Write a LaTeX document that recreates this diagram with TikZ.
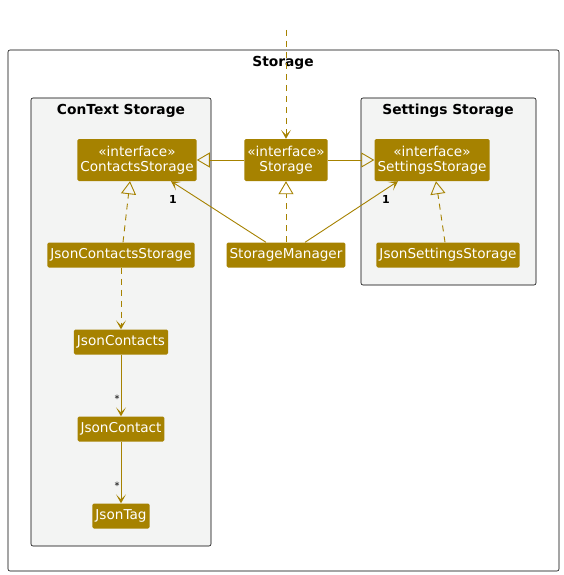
\documentclass[tikz,border=0pt]{standalone}
\usepackage{fontspec}
\setmainfont{DejaVu Sans}
\usetikzlibrary{arrows.meta, positioning}
\definecolor{umlgold}{RGB}{166,130,0}
\definecolor{pkgfill}{RGB}{243,244,243}
\tikzset{
  umlclass/.style={fill=umlgold, text=white, rounded corners=1.5pt, inner xsep=3pt, inner ysep=2pt, minimum height=25pt, font=\fontsize{13.6}{15}\selectfont}, % plain class boxes
  iface/.style={umlclass, minimum height=42pt, align=center}, % interface boxes, two lines
  package/.style={draw=black, fill=pkgfill, rounded corners=2pt, line width=0.6pt}, % package frames
  pkgtitle/.style={font=\bfseries\fontsize{13.8}{16}\selectfont}, % package names
  link/.style={draw=umlgold, line width=0.9pt}, % every connector
  dashes/.style={dash pattern=on 6pt off 5pt},
  extend/.style={link, -{Triangle[open, length=13pt, width=15pt]}}, % generalisation
  realize/.style={extend, dashes}, % realisation
  assoc/.style={link, -{Stealth[length=9pt, width=10pt, inset=5pt]}}, % association
  depend/.style={assoc, dashes}, % dependency
  mult/.style={font=\bfseries\fontsize{11}{13}\selectfont, text=black}, % multiplicities
  many/.style={font=\fontsize{10}{12}\selectfont, text=black, inner sep=1pt}, % star multiplicity
}

\begin{document}
\begin{tikzpicture}[x=1pt, y=-1pt, on grid]
  \useasboundingbox (0,0) rectangle (564,575);

  % frames
  \draw[draw=black, fill=white, rounded corners=2pt, line width=0.6pt] (8,50) rectangle (559,571);
  \node[pkgtitle] (storagetitle) at (283,63) {Storage};
  \draw[package] (31,98) rectangle (211,546);
  \node[pkgtitle] (contexttitle) at (121,111) {ConText Storage};
  \draw[package] (361,98) rectangle (536,285);
  \node[pkgtitle] (settingstitle) at (448,111) {Settings Storage};

  % classes
  \node[iface] (cs) at (137,160) {«interface»\\ContactsStorage};
  \node[iface] (st) at (286,160) {«interface»\\Storage};
  \node[iface] (ss) at (432,160) {«interface»\\SettingsStorage};
  \node[umlclass] (jcs) at (121,255) {JsonContactsStorage};
  \node[umlclass] (man) at (286,255) {StorageManager};
  \node[umlclass] (jss) at (448,255) {JsonSettingsStorage};
  \node[umlclass, below=87pt of jcs] (jcontacts) {JsonContacts};
  \node[umlclass, below=87pt of jcontacts] (jcontact) {JsonContact};
  \node[umlclass, below=87pt of jcontact] (jtag) {JsonTag};

  \coordinate (entry) at (286,30);

  % connectors
  \draw[depend] (entry) -- (st.north);
  \draw[extend] (st.west) -- (cs.east);
  \draw[extend] (st.east) -- (ss.west);
  \draw[realize] (man.north) -- (st.south);
  \draw[realize] ([xshift=2pt]jcs.north) -- ([xshift=-7pt]cs.south);
  \draw[realize] ([xshift=-3pt]jss.north) -- ([xshift=4pt]ss.south);
  \draw[assoc] ([xshift=-20pt]man.north) -- ([xshift=34pt]cs.south)
    node[mult, at end, anchor=north, xshift=2pt, yshift=-10pt] {1};
  \draw[assoc] ([xshift=19pt]man.north) -- ([xshift=-34pt]ss.south)
    node[mult, at end, anchor=north, xshift=-12pt, yshift=-10pt] {1};
  \draw[depend] (jcs) -- (jcontacts);
  \draw[assoc] (jcontacts) -- (jcontact) node[many, pos=0.72, left=0pt] {*};
  \draw[assoc] (jcontact) -- (jtag) node[many, pos=0.72, left=0pt] {*};
\end{tikzpicture}
\end{document}
